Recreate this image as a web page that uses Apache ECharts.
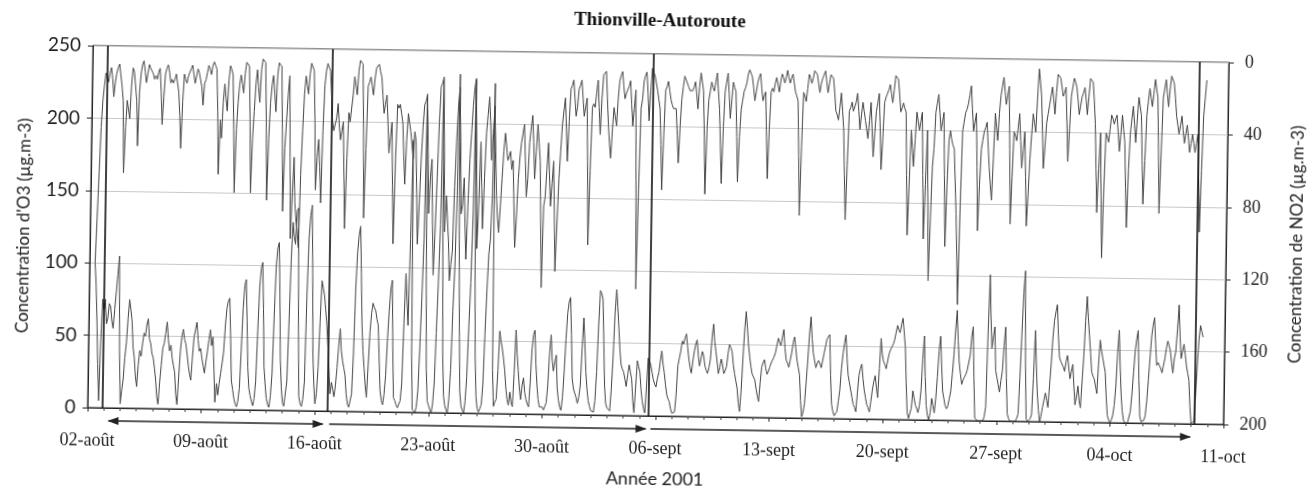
<!DOCTYPE html>
<html><head><meta charset="utf-8">
<script src="https://cdn.jsdelivr.net/npm/echarts@6/dist/echarts.min.js"></script>
<style>
html,body{margin:0;padding:0;background:#fff;overflow:hidden;}
#wrap{width:1313px;height:496px;transform:rotate(0.85deg);transform-origin:656.5px 248px;}
#chart{width:1313px;height:496px;}
</style></head><body>
<div id="wrap"><div id="chart"></div></div>
<script>
const chartTitle = 'Thionville-Autoroute';
const xAxisName = 'Année 2001';
const o3AxisName = "Concentration d'O3 (µg.m-3)";
const no2AxisName = 'Concentration de NO2 (µg.m-3)';
const xLabels = ['02-août','09-août','16-août','23-août','30-août','06-sept','13-sept','20-sept','27-sept','04-oct','11-oct'];
const o3Ticks = [0, 50, 100, 150, 200, 250];
const no2Ticks = [0, 40, 80, 120, 160, 200];
// samples every 2 h, first one on 02-août 08:00 (x = days since 02-août 00:00); one row per day
const firstHour = 8;
const stepHours = 2;
const o3 = [
  100, 85, 60, 30, 5, 45, 75, 68,
  75, 58, 62, 72, 70, 60, 55, 68, 80, 92, 105, 40,
  3, 12, 20, 35, 45, 62, 75, 68, 60, 42, 35, 22,
  15, 30, 40, 36, 45, 52, 50, 58, 62, 48, 45, 38,
  35, 28, 20, 8, 3, 18, 30, 42, 45, 52, 60, 48,
  40, 44, 35, 30, 25, 10, 3, 22, 40, 50, 55, 48,
  45, 38, 30, 24, 20, 36, 50, 55, 60, 48, 40, 42,
  35, 30, 25, 33, 40, 48, 55, 44, 50, 28, 5, 18,
  10, 18, 25, 32, 40, 58, 70, 75, 77, 50, 20, 14,
  8, 4, 2, 6, 15, 42, 70, 86, 90, 62, 30, 15,
  10, 6, 3, 8, 20, 55, 85, 98, 102, 70, 30, 18,
  8, 4, 2, 10, 25, 65, 100, 112, 116, 80, 35, 16,
  5, 3, 2, 20, 60, 105, 130, 120, 115, 138, 140, 60,
  10, 5, 3, 8, 20, 80, 120, 135, 142, 95, 40, 18,
  5, 12, 30, 62, 90, 85, 80, 70, 60, 45, 30, 12,
  20, 15, 10, 18, 30, 45, 57, 42, 35, 30, 25, 12,
  5, 3, 2, 12, 40, 85, 110, 122, 128, 95, 60, 42,
  30, 18, 10, 32, 55, 68, 75, 72, 70, 64, 60, 38,
  15, 8, 5, 12, 25, 50, 70, 85, 91, 45, 10, 8,
  5, 3, 2, 8, 20, 62, 96, 78, 60, 120, 188, 40,
  2, 1, 0, 4, 15, 45, 80, 120, 220, 95, 30, 8,
  5, 2, 0, 6, 20, 55, 90, 130, 232, 110, 40, 12,
  5, 2, 0, 10, 30, 70, 100, 150, 234, 120, 60, 15,
  5, 2, 0, 8, 25, 60, 90, 140, 230, 100, 40, 12,
  3, 1, 0, 6, 20, 55, 85, 110, 120, 150, 228, 30,
  5, 8, 10, 30, 57, 50, 45, 38, 30, 18, 10, 6,
  15, 8, 5, 28, 58, 42, 30, 18, 10, 20, 25, 15,
  10, 7, 5, 22, 45, 55, 58, 35, 20, 10, 5, 6,
  5, 3, 2, 8, 20, 42, 55, 38, 30, 36, 41, 18,
  10, 5, 3, 12, 30, 52, 70, 78, 81, 55, 25, 18,
  15, 12, 8, 12, 20, 45, 67, 50, 30, 18, 10, 6,
  3, 2, 2, 10, 30, 62, 86, 84, 80, 50, 20, 8,
  5, 4, 3, 18, 40, 70, 87, 75, 60, 45, 35, 32,
  30, 25, 20, 28, 35, 30, 25, 10, 2, 20, 38, 34,
  30, 18, 10, 5, 2, 20, 40, 38, 35, 30, 25, 22,
  20, 26, 30, 38, 45, 36, 30, 22, 15, 12, 10, 5,
  2, 1, 3, 15, 35, 40, 45, 52, 50, 54, 57, 48,
  40, 34, 30, 38, 45, 50, 53, 42, 35, 40, 45, 42,
  35, 32, 30, 34, 40, 55, 64, 52, 45, 38, 30, 34,
  40, 36, 30, 32, 35, 44, 50, 48, 45, 36, 30, 25,
  20, 10, 4, 18, 40, 60, 73, 62, 50, 42, 35, 30,
  30, 26, 20, 15, 11, 24, 35, 38, 40, 34, 30, 32,
  35, 38, 40, 42, 45, 50, 55, 52, 50, 56, 61, 48,
  40, 38, 35, 40, 45, 52, 56, 48, 40, 35, 30, 12,
  1, 4, 10, 25, 40, 58, 70, 55, 45, 40, 35, 38,
  40, 38, 35, 40, 45, 50, 55, 56, 58, 30, 10, 5,
  2, 3, 5, 12, 20, 35, 45, 52, 58, 42, 30, 25,
  20, 15, 10, 8, 5, 18, 30, 35, 38, 28, 20, 15,
  10, 8, 5, 12, 20, 26, 30, 22, 15, 35, 56, 45,
  40, 38, 35, 40, 45, 48, 50, 52, 55, 60, 65, 62,
  60, 66, 70, 60, 50, 25, 5, 1, 0, 8, 20, 15,
  10, 8, 5, 10, 20, 42, 58, 30, 10, 3, 0, 5,
  15, 10, 5, 15, 30, 48, 58, 38, 20, 15, 10, 8,
  10, 15, 20, 32, 45, 62, 76, 55, 40, 32, 25, 28,
  30, 32, 35, 40, 45, 58, 65, 30, 2, 1, 0, 0,
  0, 0, 0, 3, 10, 60, 101, 72, 50, 58, 65, 35,
  30, 25, 20, 28, 35, 52, 65, 30, 5, 2, 0, 0,
  0, 0, 0, 2, 5, 30, 60, 88, 104, 40, 2, 0,
  0, 2, 5, 30, 63, 40, 20, 8, 0, 4, 10, 15,
  20, 15, 10, 25, 40, 58, 70, 76, 81, 60, 45, 42,
  40, 38, 35, 42, 46, 38, 30, 35, 40, 25, 12, 18,
  25, 15, 10, 28, 45, 70, 87, 72, 60, 48, 35, 32,
  30, 25, 20, 40, 57, 50, 45, 40, 35, 18, 5, 2,
  0, 2, 5, 12, 25, 48, 64, 40, 20, 8, 2, 0,
  0, 0, 0, 8, 20, 35, 50, 58, 64, 30, 5, 1,
  0, 2, 5, 15, 30, 45, 60, 68, 73, 55, 40, 42,
  40, 38, 35, 40, 45, 52, 57, 54, 50, 42, 35, 45,
  50, 65, 82, 60, 45, 50, 55, 48, 40, 35, 30, 12,
  0, 1, 2, 18, 40, 58, 68, 64, 60
];
const no2 = [
  120, 95, 70, 45, 30, 22, 15, 18,
  20, 15, 12, 18, 28, 20, 15, 12, 10, 16, 22, 30,
  70, 45, 30, 35, 40, 22, 12, 14, 15, 30, 55, 25,
  15, 10, 8, 14, 20, 15, 10, 12, 12, 15, 18, 16,
  18, 14, 12, 25, 43, 28, 15, 12, 10, 14, 20, 18,
  20, 18, 15, 20, 25, 38, 56, 30, 15, 18, 20, 16,
  15, 12, 10, 15, 20, 16, 12, 14, 15, 22, 32, 20,
  18, 14, 10, 12, 15, 10, 8, 10, 12, 35, 70, 40,
  50, 30, 20, 28, 35, 18, 10, 12, 15, 45, 80, 45,
  30, 20, 15, 20, 25, 14, 8, 9, 10, 40, 80, 50,
  35, 20, 12, 22, 30, 12, 6, 7, 8, 40, 84, 50,
  30, 20, 15, 25, 35, 15, 8, 9, 10, 45, 90, 55,
  40, 25, 15, 60, 105, 80, 60, 85, 95, 100, 110, 70,
  45, 25, 15, 20, 25, 14, 8, 10, 12, 40, 78, 60,
  50, 65, 85, 45, 20, 12, 8, 10, 12, 25, 40, 45,
  45, 38, 30, 42, 50, 45, 40, 70, 99, 60, 35, 40,
  40, 25, 15, 20, 25, 12, 6, 7, 8, 45, 93, 55,
  20, 18, 15, 20, 25, 16, 10, 9, 8, 12, 15, 25,
  35, 30, 25, 40, 57, 48, 40, 75, 107, 60, 30, 32,
  30, 35, 40, 58, 74, 50, 35, 40, 45, 52, 60, 45,
  50, 80, 107, 85, 60, 42, 30, 28, 25, 55, 90, 70,
  60, 95, 124, 100, 70, 40, 20, 18, 15, 55, 100, 80,
  80, 105, 127, 118, 110, 75, 50, 30, 20, 50, 90, 85,
  70, 95, 115, 85, 60, 45, 30, 20, 15, 60, 109, 85,
  50, 75, 98, 70, 45, 35, 25, 40, 60, 45, 30, 55,
  80, 92, 100, 85, 70, 55, 45, 52, 60, 58, 55, 65,
  60, 85, 108, 90, 70, 58, 50, 45, 40, 60, 80, 70,
  50, 42, 35, 50, 70, 55, 40, 50, 60, 95, 130, 85,
  80, 65, 50, 68, 85, 72, 60, 90, 121, 95, 70, 55,
  40, 32, 25, 42, 60, 38, 20, 18, 15, 25, 35, 30,
  20, 18, 15, 25, 35, 30, 25, 60, 106, 65, 30, 28,
  30, 22, 15, 30, 45, 25, 12, 11, 10, 25, 40, 50,
  58, 42, 30, 35, 40, 25, 15, 12, 10, 18, 25, 22,
  20, 18, 15, 28, 40, 30, 20, 70, 130, 75, 30, 25,
  15, 12, 10, 22, 37, 20, 8, 10, 12, 16, 20, 25,
  30, 50, 75, 45, 20, 18, 15, 20, 25, 28, 30, 30,
  30, 45, 60, 40, 25, 18, 12, 14, 15, 18, 20, 20,
  20, 18, 15, 22, 30, 18, 10, 15, 20, 45, 77, 40,
  25, 20, 15, 18, 20, 15, 10, 20, 30, 50, 71, 40,
  20, 15, 10, 22, 35, 25, 15, 18, 20, 45, 70, 45,
  30, 25, 20, 18, 15, 10, 8, 10, 12, 18, 25, 20,
  15, 12, 10, 18, 25, 22, 20, 45, 68, 40, 20, 18,
  20, 15, 12, 16, 20, 14, 10, 12, 15, 12, 8, 12,
  15, 12, 10, 15, 20, 22, 25, 55, 88, 50, 20, 22,
  25, 18, 10, 12, 15, 12, 8, 9, 10, 15, 20, 15,
  12, 10, 8, 14, 20, 15, 10, 11, 12, 20, 30, 32,
  35, 28, 20, 30, 40, 65, 90, 60, 30, 28, 25, 30,
  30, 25, 20, 30, 40, 32, 25, 30, 35, 40, 45, 35,
  25, 40, 55, 42, 30, 25, 20, 40, 62, 45, 25, 22,
  20, 18, 15, 20, 25, 18, 10, 11, 12, 20, 30, 28,
  25, 28, 30, 65, 98, 70, 40, 50, 60, 45, 30, 35,
  40, 35, 30, 65, 100, 70, 40, 80, 123, 90, 60, 50,
  30, 25, 20, 30, 40, 35, 30, 65, 104, 70, 45, 40,
  45, 48, 50, 68, 86, 110, 136, 80, 40, 35, 30, 28,
  25, 20, 15, 28, 40, 35, 30, 60, 95, 70, 50, 45,
  40, 38, 35, 48, 60, 70, 78, 55, 30, 38, 45, 30,
  20, 15, 10, 18, 25, 20, 15, 50, 91, 65, 40, 42,
  45, 38, 30, 45, 60, 50, 40, 65, 92, 75, 55, 42,
  30, 35, 40, 22, 5, 12, 20, 40, 60, 48, 35, 30,
  25, 20, 15, 22, 30, 18, 8, 9, 10, 15, 20, 18,
  15, 35, 56, 38, 20, 15, 10, 12, 15, 22, 30, 25,
  20, 18, 15, 22, 30, 20, 10, 11, 12, 22, 35, 60,
  84, 60, 40, 75, 109, 70, 40, 42, 45, 38, 30, 32,
  35, 32, 30, 40, 50, 40, 30, 38, 45, 70, 92, 60,
  40, 32, 25, 35, 45, 32, 20, 25, 30, 55, 79, 55,
  30, 22, 15, 20, 25, 18, 10, 15, 20, 50, 84, 50,
  20, 15, 10, 18, 25, 15, 8, 10, 12, 20, 30, 35,
  40, 35, 30, 38, 45, 40, 35, 42, 50, 45, 40, 45,
  50, 45, 40, 65, 94, 60, 30, 20, 10
];
// vertical period markers (days since 02-août 00:00)
const markers = [0.875, 14.75, 34.54, 68.17];
// period arrows under the axis: [start day, end day, heads]
const periods = [[1.3, 14.5, 'both'], [14.9, 34.4, 'end'], [34.7, 67.95, 'end']];

const toPoints = arr => arr.map((v, i) => [(firstHour + i * stepHours) / 24, v]);
const serif = '"Liberation Serif", "Times New Roman", serif';
const sans = 'Lato, "Open Sans", sans-serif';
const ink = '#222';

const chart = echarts.init(document.getElementById('chart'));
chart.setOption({
  animation: false,
  backgroundColor: '#fff',
  title: {text: chartTitle, left: 'center', top: 7,
    textStyle: {fontFamily: serif, fontWeight: 'bold', fontSize: 19, color: '#111'}},
  grid: {left: 90, right: 80, top: 54, bottom: 80, show: true, borderColor: ink, borderWidth: 1},
  xAxis: {
    type: 'value', min: 0, max: (xLabels.length - 1) * 7, interval: 7,
    name: xAxisName, nameLocation: 'middle', nameGap: 54,
    nameTextStyle: {fontFamily: sans, fontSize: 18, color: ink},
    axisLine: {lineStyle: {color: ink}},
    axisTick: {show: true, length: 4, lineStyle: {color: ink}},
    minorTick: {show: true, splitNumber: 7, length: 3, lineStyle: {color: '#444'}},
    axisLabel: {margin: 24, fontFamily: serif, fontSize: 18, color: ink,
      formatter: v => xLabels[Math.round(v / 7)]},
    splitLine: {show: false}
  },
  yAxis: [{
    type: 'value', min: o3Ticks[0], max: o3Ticks[o3Ticks.length - 1], interval: o3Ticks[1] - o3Ticks[0],
    name: o3AxisName, nameLocation: 'middle', nameGap: 58, nameRotate: 90,
    nameTextStyle: {fontFamily: sans, fontSize: 17, color: ink},
    axisLine: {show: true, lineStyle: {color: ink}},
    axisTick: {show: true, length: 5, lineStyle: {color: ink}},
    axisLabel: {margin: 12, fontFamily: sans, fontSize: 19, color: ink},
    splitLine: {show: true, lineStyle: {color: '#c8c8c8', width: 1}}
  }, {
    type: 'value', min: no2Ticks[0], max: no2Ticks[no2Ticks.length - 1], interval: no2Ticks[1] - no2Ticks[0],
    inverse: true, position: 'right',
    name: no2AxisName, nameLocation: 'middle', nameGap: 62, nameRotate: 90,
    nameTextStyle: {fontFamily: sans, fontSize: 17, color: ink},
    axisLine: {show: true, lineStyle: {color: ink}},
    axisTick: {show: true, length: 5, lineStyle: {color: ink}},
    axisLabel: {margin: 16, fontFamily: serif, fontSize: 18, color: ink},
    splitLine: {show: false}
  }],
  series: [{
    name: 'O3', type: 'line', yAxisIndex: 0, data: toPoints(o3),
    showSymbol: false, symbol: 'none',
    lineStyle: {color: '#444', width: 1},
    markLine: {silent: true, symbol: ['none', 'none'], label: {show: false},
      lineStyle: {color: '#111', width: 1.6, type: 'solid'},
      data: markers.map(m => ({xAxis: m}))}
  }, {
    name: 'NO2', type: 'line', yAxisIndex: 1, data: toPoints(no2),
    showSymbol: false, symbol: 'none',
    lineStyle: {color: '#444', width: 1}
  }]
});

// arrows under the axis, placed through the chart's own scales
const yArrow = chart.convertToPixel({yAxisIndex: 0}, 0) + 13;
const g = [];
periods.forEach(([a, b, heads]) => {
  const x1 = chart.convertToPixel({xAxisIndex: 0}, a);
  const x2 = chart.convertToPixel({xAxisIndex: 0}, b);
  g.push({type: 'line', shape: {x1: x1, y1: yArrow, x2: x2, y2: yArrow}, style: {stroke: ink, lineWidth: 1.5}});
  g.push({type: 'polygon', shape: {points: [[x2 + 1, yArrow], [x2 - 10, yArrow - 4], [x2 - 10, yArrow + 4]]}, style: {fill: ink}});
  if (heads === 'both') {
    g.push({type: 'polygon', shape: {points: [[x1 - 1, yArrow], [x1 + 10, yArrow - 4], [x1 + 10, yArrow + 4]]}, style: {fill: ink}});
  }
});
chart.setOption({graphic: g});
</script>
</body></html>
